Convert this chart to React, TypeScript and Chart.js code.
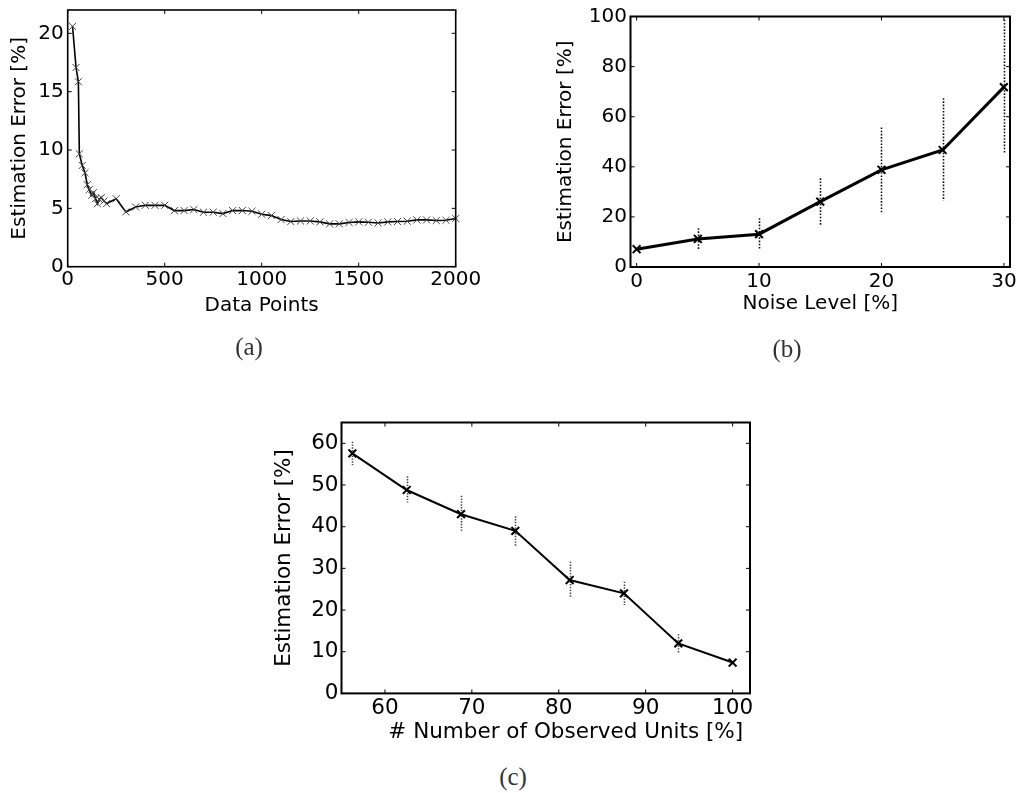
import React, { useEffect, useRef } from 'react';
import { Chart, registerables } from 'chart.js';

Chart.register(...registerables);

// ---------- Data ----------
// (a) Estimation error vs number of data points
const dataPoints = [
  25, 43, 55, 60, 75, 89, 101, 111, 124, 132, 144, 153, 163, 173, 187, 201,
  250, 300, 350, 400, 450, 500, 550, 600, 650, 700, 750, 800, 850, 900, 950, 1000,
  1050, 1100, 1150, 1200, 1250, 1300, 1350, 1400, 1450, 1500, 1550, 1600, 1650, 1700,
  1750, 1800, 1850, 1900, 1950, 2000,
];
const dataPointsError = [
  20.6, 17.07, 15.85, 9.67, 8.68, 8.05, 7.03, 6.6, 6.12, 6.35, 5.83, 5.4, 5.78, 5.92, 5.63, 5.41,
  5.83, 4.7, 5.12, 5.26, 5.26, 5.26, 4.81, 4.81, 4.9, 4.67, 4.67, 4.55, 4.81, 4.81, 4.75, 4.5,
  4.38, 4.04, 3.87, 3.92, 3.92, 3.84, 3.67, 3.67, 3.79, 3.84, 3.81, 3.75, 3.84, 3.87,
  3.9, 4.01, 4.01, 3.96, 3.98, 4.13,
];
const ticksAX = [0, 500, 1000, 1500, 2000];
const ticksAY = [0, 5, 10, 15, 20];

// (b) Estimation error vs noise level
const noiseLevels = [0, 5, 10, 15, 20, 25, 30];
const noiseError = [7.1, 11.2, 13.1, 26.1, 38.8, 46.7, 71.8];
const noiseErrLow = [7.1, 6.8, 6.8, 16.4, 21.9, 26.4, 45.7];
const noiseErrHigh = [7.1, 15.5, 19.5, 35.4, 55.7, 67.4, 98.7];
const ticksBX = [0, 10, 20, 30];
const ticksBY = [0, 20, 40, 60, 80, 100];

// (c) Estimation error vs observed units
const observedUnits = [56.25, 62.5, 68.75, 75, 81.25, 87.5, 93.75, 100];
const unitsError = [57.6, 48.8, 43.0, 39.0, 27.2, 24.0, 12.0, 7.4];
const unitsErrLow = [54.8, 45.8, 38.8, 35.4, 23.0, 21.2, 9.6, 7.4];
const unitsErrHigh = [60.4, 52.1, 47.4, 42.5, 31.6, 26.8, 14.2, 7.4];
const ticksCX = [60, 70, 80, 90, 100];
const ticksCY = [0, 10, 20, 30, 40, 50, 60];

const FONT = '"DejaVu Sans", Verdana, sans-serif';

// ---------- Plugins ----------
const framePlugin = {
  id: 'frame',
  afterDraw(chart: any, _args: any, opts: any) {
    const { ctx, chartArea: a, scales } = chart;
    const L = opts.tickLen ?? 4;
    ctx.save();
    ctx.strokeStyle = '#000';
    ctx.lineWidth = 1;
    ctx.beginPath();
    for (const t of scales.x.ticks) {
      const px = scales.x.getPixelForValue(t.value);
      ctx.moveTo(px, a.bottom);
      ctx.lineTo(px, a.bottom - L);
      ctx.moveTo(px, a.top);
      ctx.lineTo(px, a.top + L);
    }
    for (const t of scales.y.ticks) {
      const py = scales.y.getPixelForValue(t.value);
      ctx.moveTo(a.left, py);
      ctx.lineTo(a.left + L, py);
      ctx.moveTo(a.right, py);
      ctx.lineTo(a.right - L, py);
    }
    ctx.stroke();
    ctx.lineWidth = opts.width ?? 1.5;
    ctx.strokeRect(a.left, a.top, a.right - a.left, a.bottom - a.top);
    ctx.restore();
  },
};

const errPlugin = {
  id: 'errbars',
  beforeDatasetsDraw(chart: any, _args: any, opts: any) {
    if (!opts || !opts.x) return;
    const { ctx, scales } = chart;
    ctx.save();
    ctx.strokeStyle = opts.color ?? '#000';
    ctx.lineWidth = opts.width ?? 1.5;
    ctx.setLineDash(opts.dash ?? [2, 2]);
    opts.x.forEach((xv: number, i: number) => {
      const lo = opts.lo[i];
      const hi = opts.hi[i];
      if (hi - lo < 0.01) return;
      const px = Math.round(scales.x.getPixelForValue(xv)) + 0.5;
      ctx.beginPath();
      ctx.moveTo(px, scales.y.getPixelForValue(hi));
      ctx.lineTo(px, scales.y.getPixelForValue(lo));
      ctx.stroke();
    });
    ctx.restore();
  },
};

type Panel = {
  left: number; top: number; width: number; height: number;
  pad: { left: number; top: number; right: number; bottom: number };
  yAxisWidth: number; xAxisHeight: number;
  yTitlePad: number; yTickPad: number; xTickPad: number;
  fontSize: number;
  xMin: number; xMax: number; yMin: number; yMax: number;
  xTicks: number[]; yTicks: number[];
  xTitle: string; yTitle: string; xTitleAlign: 'center' | 'end';
  xs: number[]; ys: number[];
  lineWidth: number; markerRadius: number; markerWidth: number; markerColor: string;
  frameWidth: number;
  err?: { x: number[]; lo: number[]; hi: number[]; color: string; width: number; dash: number[] };
};

function makeConfig(p: Panel): any {
  const font = { family: FONT, size: p.fontSize, lineHeight: 1.2 };
  return {
    type: 'line',
    data: {
      datasets: [
        {
          data: p.xs.map((x, i) => ({ x, y: p.ys[i] })),
          borderColor: '#000',
          borderWidth: p.lineWidth,
          pointStyle: 'crossRot',
          pointRadius: p.markerRadius,
          pointHoverRadius: p.markerRadius,
          pointBorderWidth: p.markerWidth,
          pointBorderColor: p.markerColor,
          pointBackgroundColor: p.markerColor,
          fill: false,
          tension: 0,
          clip: false,
        },
      ],
    },
    options: {
      responsive: false,
      animation: false,
      events: [],
      layout: { padding: p.pad },
      plugins: {
        legend: { display: false },
        tooltip: { enabled: false },
        frame: { width: p.frameWidth, tickLen: 4 },
        errbars: p.err ?? {},
      },
      scales: {
        x: {
          type: 'linear',
          bounds: 'data',
          min: p.xMin,
          max: p.xMax,
          grid: { display: false, drawTicks: false },
          border: { display: false },
          ticks: {
            color: '#000',
            font,
            padding: p.xTickPad,
            maxRotation: 0,
            autoSkip: false,
            callback: (v: any) => String(v),
          },
          afterBuildTicks: (s: any) => {
            s.ticks = p.xTicks.map((v) => ({ value: v }));
          },
          afterFit: (s: any) => {
            s.height = p.xAxisHeight;
          },
          title: {
            display: true,
            text: p.xTitle,
            color: '#000',
            font,
            align: p.xTitleAlign,
            padding: { top: 0, bottom: 0 },
          },
        },
        y: {
          type: 'linear',
          bounds: 'data',
          min: p.yMin,
          max: p.yMax,
          grid: { display: false, drawTicks: false },
          border: { display: false },
          ticks: {
            color: '#000',
            font,
            padding: p.yTickPad,
            autoSkip: false,
            callback: (v: any) => String(v),
          },
          afterBuildTicks: (s: any) => {
            s.ticks = p.yTicks.map((v) => ({ value: v }));
          },
          afterFit: (s: any) => {
            s.width = p.yAxisWidth;
          },
          title: {
            display: true,
            text: p.yTitle,
            color: '#000',
            font,
            padding: { top: p.yTitlePad, bottom: 0 },
          },
        },
      },
    },
    plugins: [framePlugin, errPlugin],
  };
}

const panelA: Panel = {
  left: 0, top: -10, width: 500, height: 345,
  pad: { left: 0, top: 20, right: 44.3, bottom: 17.2 },
  yAxisWidth: 67.7, xAxisHeight: 51.1,
  yTitlePad: 7.5, yTickPad: 4, xTickPad: 1.3,
  fontSize: 20,
  xMin: 0, xMax: 2000, yMin: 0, yMax: 22,
  xTicks: ticksAX, yTicks: ticksAY,
  xTitle: 'Data Points', yTitle: 'Estimation Error [%]', xTitleAlign: 'center',
  xs: dataPoints, ys: dataPointsError,
  lineWidth: 1.6, markerRadius: 5, markerWidth: 1, markerColor: '#444',
  frameWidth: 1.6,
};

const panelB: Panel = {
  left: 540, top: 0, width: 500, height: 335,
  pad: { left: 0, top: 16.5, right: 30, bottom: 19.7 },
  yAxisWidth: 90.5, xAxisHeight: 48.3,
  yTitlePad: 13.8, yTickPad: 3.5, xTickPad: 2.7,
  fontSize: 20,
  xMin: -0.5, xMax: 30.5, yMin: 0, yMax: 100,
  xTicks: ticksBX, yTicks: ticksBY,
  xTitle: 'Noise Level [%]', yTitle: 'Estimation Error [%]', xTitleAlign: 'center',
  xs: noiseLevels, ys: noiseError,
  lineWidth: 3, markerRadius: 5.5, markerWidth: 2, markerColor: '#000',
  frameWidth: 2,
  err: { x: noiseLevels, lo: noiseErrLow, hi: noiseErrHigh, color: '#111', width: 1.6, dash: [1.6, 1.6] },
};

const panelC: Panel = {
  left: 260, top: 400, width: 530, height: 360,
  pad: { left: 0, top: 22.5, right: 40, bottom: 14.6 },
  yAxisWidth: 81.5, xAxisHeight: 52,
  yTitlePad: 11.3, yTickPad: 3, xTickPad: 2,
  fontSize: 21.5,
  xMin: 55, xMax: 102, yMin: 0, yMax: 65,
  xTicks: ticksCX, yTicks: ticksCY,
  xTitle: '# Number of Observed Units [%] ', yTitle: 'Estimation Error [%]', xTitleAlign: 'end',
  xs: observedUnits, ys: unitsError,
  lineWidth: 2, markerRadius: 5.5, markerWidth: 2, markerColor: '#000',
  frameWidth: 2,
  err: { x: observedUnits, lo: unitsErrLow, hi: unitsErrHigh, color: '#444', width: 1.6, dash: [1.4, 1.4] },
};

function PanelChart({ p }: { p: Panel }) {
  const ref = useRef<HTMLCanvasElement | null>(null);
  useEffect(() => {
    if (!ref.current) return;
    const chart = new Chart(ref.current, makeConfig(p));
    return () => chart.destroy();
  }, [p]);
  return (
    <canvas
      ref={ref}
      width={p.width}
      height={p.height}
      style={{ position: 'absolute', left: p.left, top: p.top, width: p.width, height: p.height, display: 'block' }}
    />
  );
}

function Caption({ text, x, y }: { text: string; x: number; y: number }) {
  return (
    <div
      style={{
        position: 'absolute',
        left: x - 50,
        top: y - 16,
        width: 100,
        height: 32,
        lineHeight: '32px',
        textAlign: 'center',
        fontFamily: '"Liberation Serif", "DejaVu Serif", serif',
        fontSize: 25,
        color: '#333',
      }}
    >
      {text}
    </div>
  );
}

export default function App() {
  return (
    <div
      style={{
        position: 'absolute',
        left: 0,
        top: 0,
        width: 1019,
        height: 793,
        overflow: 'hidden',
        background: '#fff',
      }}
    >
      <PanelChart p={panelA} />
      <PanelChart p={panelB} />
      <PanelChart p={panelC} />
      <Caption text="(a)" x={249} y={347} />
      <Caption text="(b)" x={787} y={349} />
      <Caption text="(c)" x={513} y={777} />
    </div>
  );
}
